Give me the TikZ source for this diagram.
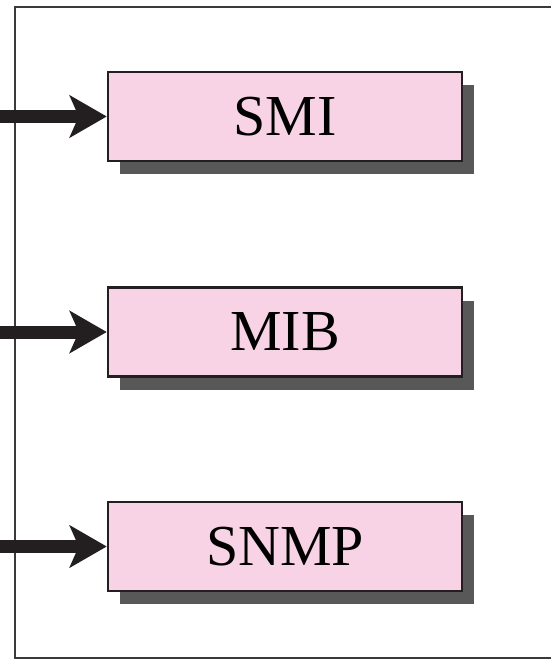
\documentclass[tikz,border=0pt]{standalone}
\usepackage{fontspec}
\setmainfont{Liberation Serif}
\usetikzlibrary{arrows.meta,shadows}
\definecolor{boxpink}{HTML}{F8D3E5}
\definecolor{shadowgray}{HTML}{585858}
\definecolor{framegray}{HTML}{3A3A3A}
\definecolor{inkdark}{HTML}{231F20}
\begin{document}
\begin{tikzpicture}[x=1pt,y=-1pt,
  layerbox/.style={draw=inkdark, line width=2.5pt, fill=boxpink,
    minimum width=354pt, minimum height=89pt, inner sep=0pt,
    font=\fontsize{58}{60}\selectfont,
    drop shadow={shadow xshift=12pt, shadow yshift=-13pt, fill=shadowgray, opacity=1}},
  feed/.style={-{Stealth[length=37pt,width=42pt,inset=9pt]}, line width=13pt, draw=inkdark},
  frameline/.style={draw=framegray, line width=2pt}]
\useasboundingbox (0,0) rectangle (550,660);
\coordinate (ftop) at (551,7);
\coordinate (fbot) at (551,658);
\draw[frameline] (ftop) -- (15,7) -- (15,658) -- (fbot);
\node[layerbox] (smi) at (285,116.5) {SMI};
\node[layerbox] (mib) at (285,332) {MIB};
\node[layerbox] (snmp) at (285,546.5) {SNMP};
\coordinate (s1) at (0,116.5);
\coordinate (s2) at (0,332);
\coordinate (s3) at (0,546.5);
\draw[feed] (s1) -- (smi.west);
\draw[feed] (s2) -- (mib.west);
\draw[feed] (s3) -- (snmp.west);
\end{tikzpicture}
\end{document}
